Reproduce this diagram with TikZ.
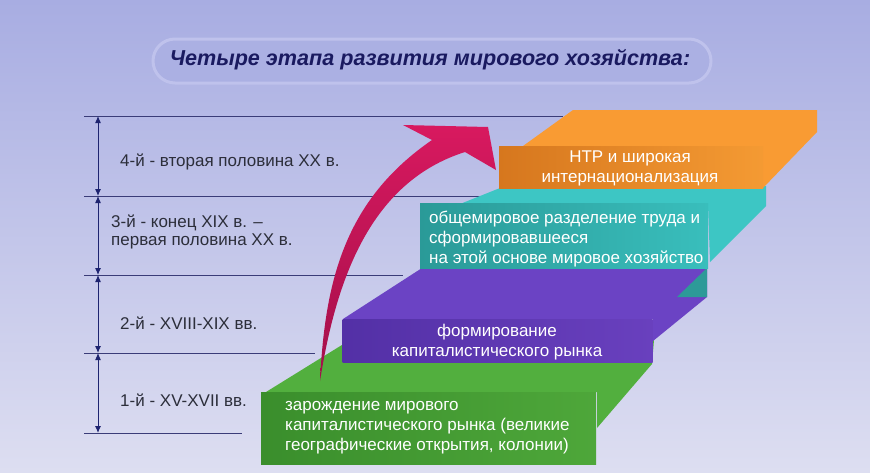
\documentclass[tikz,border=0pt]{standalone}
\usepackage{fontspec}
\setmainfont{Liberation Sans}
\usetikzlibrary{arrows.meta}
\definecolor{bgtop}{HTML}{A8ADE2}
\definecolor{bgbot}{HTML}{DDDEF1}
\definecolor{pillfill}{HTML}{ABB0E3}
\definecolor{pillborder}{HTML}{BFC2EC}
\definecolor{titleblue}{HTML}{1A1A60}
\definecolor{rulecol}{HTML}{3A3C78}
\definecolor{arrowcol}{HTML}{1E2470}
\definecolor{labelcol}{HTML}{2C2E3A}
\definecolor{pinkarrow}{HTML}{D8195F}
\definecolor{pinkdark}{HTML}{A30F4A}
\definecolor{orangetop}{HTML}{F99B33}
\definecolor{orangeL}{HTML}{D6771E}
\definecolor{orangeR}{HTML}{F49A33}
\definecolor{tealtop}{HTML}{3DC6C4}
\definecolor{tealL}{HTML}{2A9A98}
\definecolor{tealR}{HTML}{39BEBC}
\definecolor{tealdark}{HTML}{2D9A98}
\definecolor{purpletop}{HTML}{6B43C4}
\definecolor{purpleL}{HTML}{5330A6}
\definecolor{purpleR}{HTML}{6940BE}
\definecolor{greentop}{HTML}{52AF3E}
\definecolor{greenL}{HTML}{3A8E2C}
\definecolor{greenR}{HTML}{4EA73A}
\tikzset{
  hrule/.style={draw=rulecol, line width=1pt},
  span/.style={draw=arrowcol, line width=1pt, {Latex[length=7pt,width=6pt]}-{Latex[length=7pt,width=6pt]}},
  period/.style={inner sep=0pt, text=labelcol, font=\fontsize{17}{18}\selectfont, align=left},
  slabtext/.style={inner sep=0pt, text=white, font=\fontsize{17}{20}\selectfont},
  face/.style={draw=none, inner sep=0pt}
}
\begin{document}
\begin{tikzpicture}[x=1pt,y=-1pt]
% background
\shade[top color=bgtop, bottom color=bgbot] (0,0) rectangle (870,472);
\useasboundingbox (0,0) rectangle (870,472);

% title
\node[name=title, draw=pillborder, fill=pillfill, line width=3pt, rounded corners=22pt,
      minimum width=558pt, minimum height=44pt, inner sep=0pt] at (432,61) {};
\node[name=titletext, inner sep=0pt, text=titleblue,
      font=\fontsize{21.6}{24}\selectfont\bfseries\itshape] at (430,60)
      {Четыре этапа развития мирового хозяйства:};

% horizontal rules
\coordinate (r1a) at (84,116); \coordinate (r1b) at (563,116);
\coordinate (r2a) at (84,196); \coordinate (r2b) at (480,196);
\coordinate (r3a) at (84,275); \coordinate (r3b) at (403,275);
\coordinate (r4a) at (84,353); \coordinate (r4b) at (315,353);
\coordinate (r5a) at (84,433); \coordinate (r5b) at (242,433);
\draw[hrule] (r1a) -- (r1b);
\draw[hrule] (r2a) -- (r2b);
\draw[hrule] (r3a) -- (r3b);
\draw[hrule] (r4a) -- (r4b);
\draw[hrule] (r5a) -- (r5b);

% vertical spans
\coordinate (v1) at (98,116);
\coordinate (v2) at (98,196);
\coordinate (v3) at (98,275);
\coordinate (v4) at (98,353);
\coordinate (v5) at (98,433);
\draw[span] (v1) -- (v2);
\draw[span] (v2) -- (v3);
\draw[span] (v3) -- (v4);
\draw[span] (v4) -- (v5);

% period labels
\node[period, anchor=west, name=p4] at (120,162) {4-й - вторая половина XX в.};
\node[period, anchor=west, name=p3] at (111,232) {3-й - конец XIX в. –\\первая половина XX в.};
\node[period, anchor=west, name=p2] at (120,323) {2-й - XVIII-XIX вв.};
\node[period, anchor=west, name=p1] at (120,400) {1-й - XV-XVII вв.};

% green slab
\fill[greentop] (266,392) -- (350,340) -- (654,340) -- (652,364) -- (597,428) -- (597,392) -- cycle;
\node[face, name=gfront, left color=greenL, right color=greenR, minimum width=335pt, minimum height=72pt] at (428.5,428) {};

% purple slab
\fill[purpletop] (343,319) -- (422,268) -- (707,268) -- (707,297) -- (653,341) -- (653,319) -- cycle;
\node[face, name=pfront, left color=purpleL, right color=purpleR, minimum width=310pt, minimum height=43pt] at (497.5,340.5) {};

% teal slab
\fill[tealtop] (460,204) -- (505,186) -- (766,186) -- (766,206) -- (710,262) -- (708,204) -- cycle;
\fill[tealdark] (677,297) -- (707,268) -- (707,297) -- cycle;
\node[face, name=tfront, left color=tealL, right color=tealR, minimum width=288pt, minimum height=65pt] at (564,235.5) {};

% orange slab
\fill[orangetop] (523,146) -- (573,110) -- (817,110) -- (817,132) -- (763,188) -- (763,146) -- cycle;
\node[face, name=ofront, left color=orangeL, right color=orangeR, minimum width=264pt, minimum height=42pt] at (631,167) {};

% slab texts
\node[slabtext, align=center, name=otext] at (630,168) {НТР и широкая\\интернационализация};
\node[slabtext, align=left, anchor=west, name=ttext] at (429,239) {общемировое разделение труда и\\сформировавшееся\\на этой основе мировое хозяйство};
\node[slabtext, align=center, name=ptext] at (497,342.5) {формирование\\капиталистического рынка};
\node[slabtext, align=left, anchor=west, name=gtext] at (285,428) {зарождение мирового\\капиталистического рынка (великие\\географические открытия, колонии)};

% pink curved arrow
\coordinate (tail) at (320,381);
\coordinate (notchA) at (432,140);
\coordinate (barbA) at (403,125);
\coordinate (tip) at (488,127);
\coordinate (barbB) at (496,170);
\coordinate (notchB) at (465,152);
\shade[top color=pinkarrow, bottom color=pinkdark, shading angle=0]
  (tail) .. controls (325,280) and (345,200) .. (notchA)
  -- (barbA) -- (tip) -- (barbB) -- (notchB)
  .. controls (370,182) and (336,280) .. (tail) -- cycle;
\end{tikzpicture}
\end{document}
